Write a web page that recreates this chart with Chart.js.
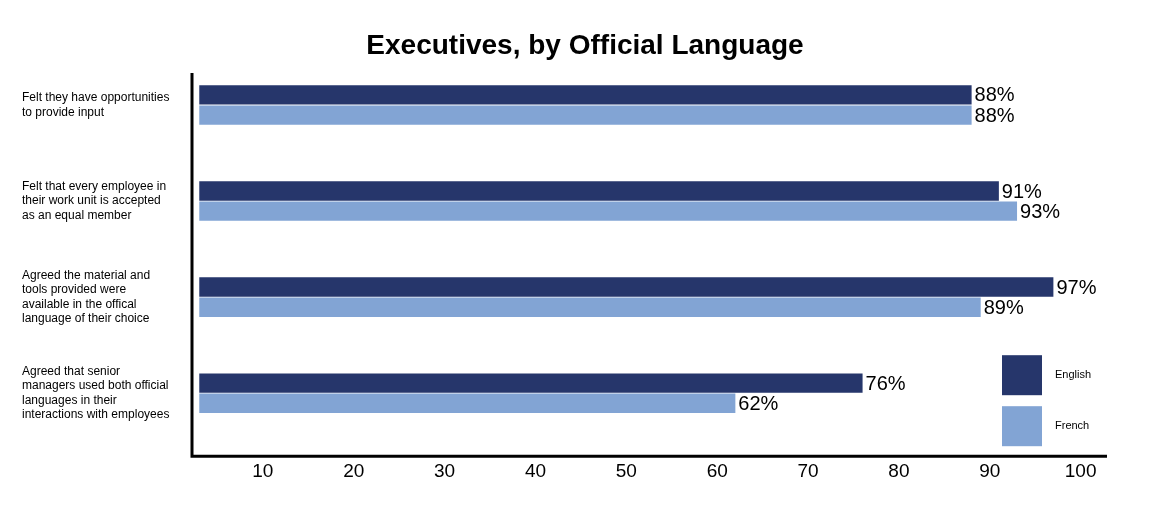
<!DOCTYPE html>
<html>
<head>
<meta charset="utf-8">
<script src="https://cdn.jsdelivr.net/npm/chart.js@4/dist/chart.umd.min.js"></script>
<style>
  html, body { margin: 0; padding: 0; background: #fff; }
  #wrap { width: 1170px; height: 510px; position: relative; }
</style>
</head>
<body>
<div id="wrap"><canvas id="chart"></canvas></div>
<script>
const chartTitle = 'Executives, by Official Language';
const categories = [
  ['Felt they have opportunities', 'to provide input'],
  ['Felt that every employee in', 'their work unit is accepted', 'as an equal member'],
  ['Agreed the material and', 'tools provided were', 'available in the offical', 'language of their choice'],
  ['Agreed that senior', 'managers used both official', 'languages in their', 'interactions with employees']
];
const seriesNames = ['English', 'French'];
const englishValues = [88, 91, 97, 76];
const frenchValues = [88, 93, 89, 62];
const xTicks = [10, 20, 30, 40, 50, 60, 70, 80, 90, 100];
const barStart = 3;

const colors = ['#26366b', '#82a4d4'];
const FONT = 'Liberation Sans, Arial, Helvetica, sans-serif';

// title, axis lines, value labels and legend drawn by hand
const extras = {
  id: 'extras',
  afterDatasetsDraw(chart) {
    const { ctx, chartArea } = chart;
    const axisY = chartArea.bottom + 15;
    ctx.save();

    ctx.fillStyle = '#000';
    ctx.font = 'bold 28px ' + FONT;
    ctx.textAlign = 'center';
    ctx.textBaseline = 'alphabetic';
    ctx.fillText(chartTitle, 585, 54);

    ctx.strokeStyle = '#000';
    ctx.lineWidth = 3;
    ctx.beginPath();
    ctx.moveTo(chartArea.left, 73);
    ctx.lineTo(chartArea.left, axisY + 1.5);
    ctx.moveTo(chartArea.left - 1.5, axisY);
    ctx.lineTo(chartArea.right, axisY);
    ctx.stroke();

    // value labels
    ctx.font = '20px ' + FONT;
    ctx.textBaseline = 'middle';
    ctx.textAlign = 'left';
    chart.data.datasets.forEach((ds, i) => {
      chart.getDatasetMeta(i).data.forEach((bar, j) => {
        ctx.fillText(ds.values[j] + '%', bar.x + 3, bar.y + 1);
      });
    });

    // legend
    ctx.font = '11px ' + FONT;
    chart.data.datasets.forEach((ds, i) => {
      const y = chartArea.bottom - 86 + i * 51;
      ctx.fillStyle = ds.backgroundColor;
      ctx.fillRect(1002, y, 40, 40);
      ctx.fillStyle = '#000';
      ctx.fillText(ds.label, 1055, y + 20);
    });
    ctx.restore();
  }
};

new Chart(document.getElementById('chart'), {
  type: 'bar',
  data: {
    labels: categories,
    datasets: [
      { label: seriesNames[0], values: englishValues, data: englishValues.map(v => [barStart, v]), backgroundColor: colors[0] },
      { label: seriesNames[1], values: frenchValues, data: frenchValues.map(v => [barStart, v]), backgroundColor: colors[1] }
    ]
  },
  options: {
    indexAxis: 'y',
    responsive: true,
    maintainAspectRatio: false,
    animation: false,
    layout: { padding: { left: 22, top: 57, right: 63, bottom: 8 } },
    datasets: {
      bar: {
        barPercentage: 0.96,
        categoryPercentage: 0.42,
        borderWidth: 0
      }
    },
    scales: {
      x: {
        min: 2.2,
        max: 102.9,
        afterBuildTicks: (axis) => { axis.ticks = xTicks.map(v => ({ value: v })); },
        grid: { display: false, drawTicks: false },
        border: { display: false },
        ticks: { color: '#000', font: { size: 19, family: FONT }, padding: 19 }
      },
      y: {
        grid: { display: false, drawTicks: false },
        border: { display: false },
        afterFit: (axis) => { axis.width = 170; },
        ticks: { color: '#000', font: { size: 12, family: FONT, lineHeight: 1.2 }, crossAlign: 'far', padding: 0 }
      }
    },
    plugins: {
      legend: { display: false },
      tooltip: { enabled: false },
      title: { display: false }
    }
  },
  plugins: [extras]
});
</script>
</body>
</html>
